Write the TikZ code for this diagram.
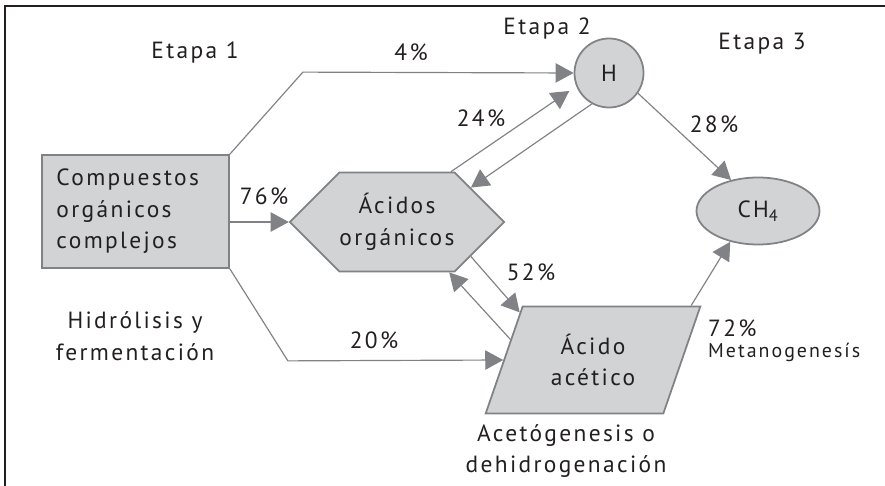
\documentclass[tikz,border=0pt]{standalone}
\usepackage{fontspec}
\setmainfont{PT Sans}[LetterSpace=10]
\usetikzlibrary{shapes.geometric,shapes.symbols,arrows.meta,positioning,calc}
\definecolor{relleno}{HTML}{D1D3D4}
\definecolor{borde}{HTML}{808285}
\definecolor{tinta}{HTML}{231F20}

\tikzset{
forma/.style={draw=borde, fill=relleno, line width=1.5pt, text=tinta, align=center, inner sep=0pt},
flecha/.style={draw=borde, line width=1pt, -{Triangle[length=0.54cm,width=0.58cm]}},
texto/.style={text=tinta, align=center, inner sep=0pt},
}

\begin{document}
\begin{tikzpicture}[x=0.03cm,y=-0.03cm,font=\fontsize{20}{27}\selectfont]
\useasboundingbox (0,0) rectangle (885,486);
\draw [tinta, line width=1.1pt] (5,486) -- (5,6) -- (885,6);

\node (comp) [forma, rectangle, minimum width=5.61cm, minimum height=3.39cm, text width=4.74cm, align=left] at (135.5,211.5) {Compuestos\\orgánicos\\complejos};
\node (acidos) [forma, signal, signal to=west and east, signal pointer angle=90, minimum width=6.09cm, minimum height=2.97cm] at (397,222) {Ácidos\\orgánicos};
\node (aceti) [forma, trapezium, trapezium stretches=true, trapezium left angle=67, trapezium right angle=113, minimum width=6.45cm, minimum height=3.21cm] at (593,360) {Ácido\\acético};
\node (H) [forma, circle, minimum size=2.07cm] at (609,73) {H};
\node (ch) [forma, ellipse, minimum width=3.69cm, minimum height=2.01cm] at (758,211) {CH\textsubscript{4}};

\draw [flecha] (comp.north east) -- ++(73,-82) -- (H.west);
\draw [flecha] (comp.east |- acidos.west) -- (acidos.west);
\draw [flecha] (comp.south east) -- ++(58,92) -- (aceti.west);
\draw [flecha, shorten >=0.25cm] (acidos.43) -- (H.202);
\draw [flecha] (H.241) -- (acidos.25);
\draw [flecha] (acidos.335) -- (aceti.147);
\draw [flecha] (aceti.166) -- (acidos.316);
\draw [flecha] (H.325) -- (ch.131);
\draw [flecha] (aceti.29) -- (ch.228);

\node (e1) [texto] at (195,53) {Etapa 1};
\node (e2) [texto] at (547,29) {Etapa 2};
\node (e3) [texto] at (762,44) {Etapa 3};
\node (p4) [texto] at (411,52) {4\%};
\node (p76) [texto] at (264,196) {76\%};
\node (p24) [texto] at (481,118) {24\%};
\node (p52) [texto] at (531,272) {52\%};
\node (p20) [texto] at (374,340) {20\%};
\node (p28) [texto] at (714,124) {28\%};
\node (p72) [texto, anchor=west] at (708,328) {72\%};
\node (meta) [texto, anchor=north west, font=\fontsize{17}{20}\selectfont] at ([yshift=-0.2cm]p72.south west) {Metanogenesís};
\node (hidro) [texto] at (135,336) {Hidrólisis y\\fermentación};
\node (aceto) [texto] at (566,451) {Acetógenesis o\\dehidrogenación};
\end{tikzpicture}
\end{document}
